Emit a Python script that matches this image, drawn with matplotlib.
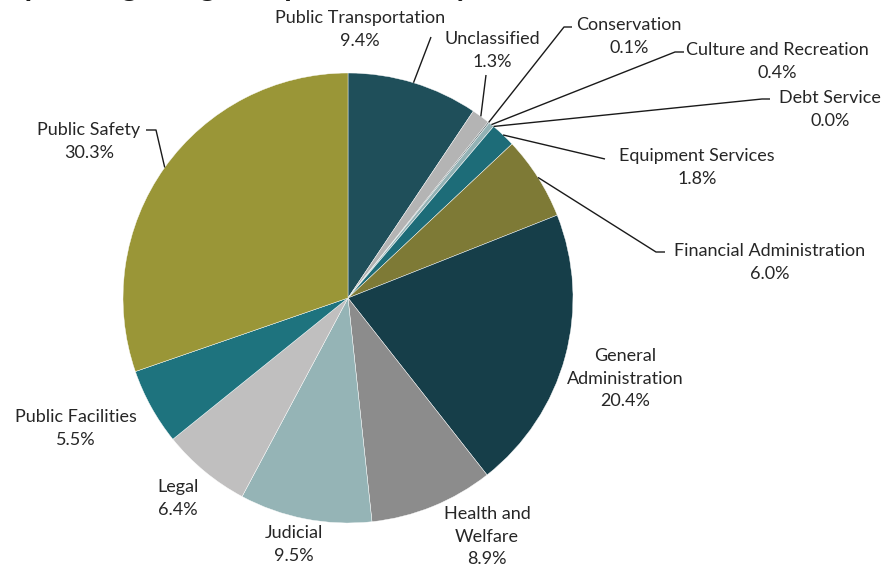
import numpy as np
import matplotlib.pyplot as plt

# --- data ---
categories = [
    "Public Transportation", "Unclassified", "Conservation",
    "Culture and Recreation", "Debt Service", "Equipment Services",
    "Financial Administration", "General Administration",
    "Health and Welfare", "Judicial", "Legal", "Public Facilities",
    "Public Safety",
]
shares = [9.4, 1.3, 0.1, 0.4, 0.0, 1.8, 6.0, 20.4, 8.9, 9.5, 6.4, 5.5, 30.3]
label_texts = [
    "Public Transportation", "Unclassified", "Conservation",
    "Culture and Recreation", "Debt Service", "Equipment Services",
    "Financial Administration", "General\nAdministration",
    "Health and\nWelfare", "Judicial", "Legal", "Public Facilities",
    "Public Safety",
]
colors = [
    "#1f4f5a", "#b4b4b4", "#5f6f72", "#93b2b5", "#7f8f92", "#1d6c78",
    "#7e7a36", "#163e49", "#8c8c8c", "#95b4b6", "#c0bfbf", "#1e737e",
    "#9a9637",
]

# --- layout (pixels in the 887x573 figure) ---
W, H = 887, 573
CX, CY, R = 348, 298, 225

# label centre (first line) in pixels
label_pos = {
    "Public Transportation": (360, 17),
    "Unclassified": (492, 38),
    "Conservation": (629, 24),
    "Culture and Recreation": (777, 49),
    "Debt Service": (830, 97),
    "Equipment Services": (697, 155),
    "Financial Administration": (770, 250),
    "General Administration": (625, 354),
    "Health and Welfare": (487, 512),
    "Judicial": (294, 532),
    "Legal": (178, 486),
    "Public Facilities": (76, 416),
    "Public Safety": (89, 129),
}
# leader lines: list of pixel points from label toward the slice
leaders = {
    "Public Transportation": [(431, 37)],
    "Unclassified": [(486, 75)],
    "Conservation": [(572, 27), (564, 27)],
    "Culture and Recreation": [(684, 52), (675, 52)],
    "Debt Service": [(770, 99), (762, 99)],
    "Equipment Services": [(605, 159)],
    "Financial Administration": [(665, 252), (656, 252)],
    "Public Safety": [(146, 130), (156, 130)],
}


def px(x, y):
    return (x - CX) / R, (CY - y) / R


plt.rcParams['font.family'] = ['Lato', 'DejaVu Sans']

fig = plt.figure(figsize=(W / 100, H / 100), dpi=100)
ax = fig.add_axes([(CX - R) / W, (H - CY - R) / H, 2 * R / W, 2 * R / H])

wedges, _ = ax.pie(shares, colors=colors, startangle=90, counterclock=False,
                   radius=1, wedgeprops=dict(edgecolor="white", linewidth=0.3))
ax.set_xlim(-1, 1)
ax.set_ylim(-1, 1)
ax.set_axis_off()

for w, cat, txt, val in zip(wedges, categories, label_texts, shares):
    lx, ly = label_pos[cat]
    n = txt.count("\n")
    # text block of n+2 lines, 25px pitch, first line centred at ly
    mid_y = ly + (n + 1) * 12.5
    x, y = px(lx, mid_y)
    ax.text(x, y, f"{txt}\n{val:.1f}%", ha="center", va="center",
            fontsize=13, color="#262626", linespacing=1.5, clip_on=False)
    if cat in leaders:
        ang = np.deg2rad((w.theta1 + w.theta2) / 2)
        pts = [px(*p) for p in leaders[cat]] + [(np.cos(ang), np.sin(ang))]
        xs, ys = zip(*pts)
        ax.plot(xs, ys, color="#1a1a1a", lw=1.0, clip_on=False,
                solid_capstyle="butt")

# title cropped at the top edge of the image
fig.text(0.0, 1 + 4 / H, "Operating Budget Expenditures by Function",
         ha="left", va="baseline", fontsize=22, fontweight="bold",
         color="#1a1a1a")

fig.savefig("out.png", dpi=100)
